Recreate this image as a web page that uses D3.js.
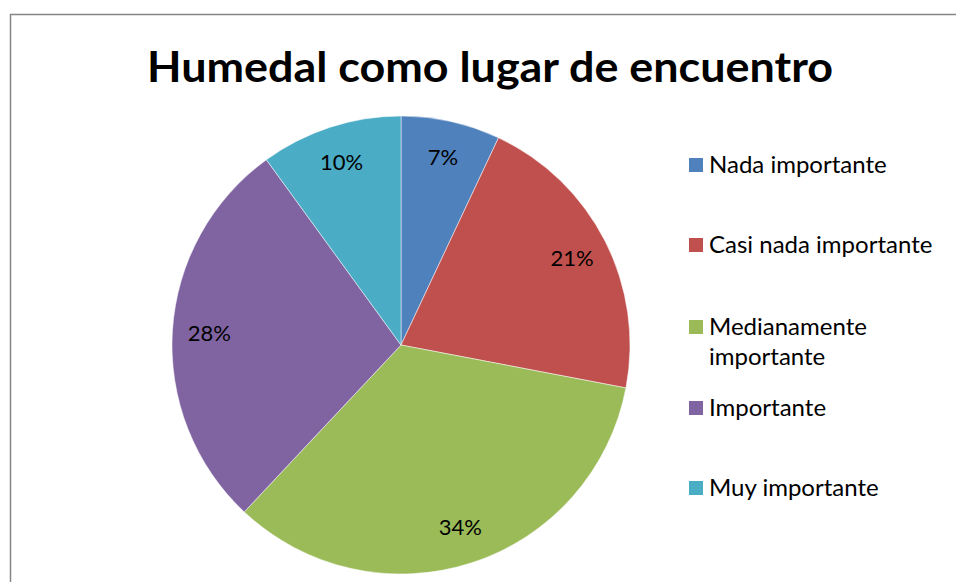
<!DOCTYPE html>
<html lang="es">
<head>
    <meta charset="UTF-8">
    <title>Humedal como lugar de encuentro</title>
    <script src="https://d3js.org/d3.v7.min.js"></script>
    <style>
        body { margin: 0; background: #fff; }
        svg { display: block; font-family: Lato, "Open Sans", sans-serif; }
    </style>
</head>
<body>
    <svg width="956" height="582"></svg>
    <script>
        var categories = ['Nada importante', 'Casi nada importante', 'Medianamente importante', 'Importante', 'Muy importante'];
        var values = [7, 21, 34, 28, 10];
        var legendLines = [['Nada importante'], ['Casi nada importante'], ['Medianamente', 'importante'], ['Importante'], ['Muy importante']];
        var colors = ['#4F81BD', '#C0504D', '#9BBB59', '#8064A2', '#4BACC6'];

        var data = categories.map((c, i) => ({ name: c, value: values[i], lines: legendLines[i], color: colors[i] }));

        var svg = d3.select('svg');

        // chart area border (runs off the right and bottom edge)
        svg.append('rect')
            .attr('x', 10.5).attr('y', 14.5)
            .attr('width', 1000).attr('height', 1000)
            .style('fill', 'none')
            .style('stroke', '#868686')
            .style('stroke-width', '1.5px');

        svg.append('text')
            .attr('x', 490).attr('y', 82)
            .attr('text-anchor', 'middle')
            .attr('textLength', 686)
            .attr('lengthAdjust', 'spacingAndGlyphs')
            .style('font-size', '42px')
            .style('font-weight', 'bold')
            .text('Humedal como lugar de encuentro');

        var cx = 401, cy = 345, radius = 229;
        var pie = d3.pie().sort(null).value(d => d.value);
        var arc = d3.arc().innerRadius(0).outerRadius(radius);
        var labelArc = d3.arc().innerRadius(192).outerRadius(192);

        var g = svg.append('g').attr('transform', 'translate(' + cx + ',' + cy + ')');
        var slices = pie(data);

        g.selectAll('path')
            .data(slices)
            .enter()
            .append('path')
            .attr('d', arc)
            .style('fill', d => d.data.color)
            .style('stroke', '#fff')
            .style('stroke-width', '0.5px');

        g.selectAll('text')
            .data(slices)
            .enter()
            .append('text')
            .attr('transform', d => 'translate(' + labelArc.centroid(d) + ')')
            .attr('text-anchor', 'middle')
            .attr('dy', '0.35em')
            .style('font-size', '22px')
            .style('fill', '#000')
            .text(d => d.data.value + '%');

        // legend
        var legendY = [165, 245, 327, 408, 488];
        var legend = svg.selectAll('g.legend')
            .data(data)
            .enter()
            .append('g')
            .attr('class', 'legend')
            .attr('transform', (d, i) => 'translate(689,' + legendY[i] + ')');

        legend.append('rect')
            .attr('x', 0).attr('y', -7)
            .attr('width', 14).attr('height', 14)
            .style('fill', d => d.color);

        legend.append('text')
            .style('font-size', '24px')
            .selectAll('tspan')
            .data(d => d.lines)
            .enter()
            .append('tspan')
            .attr('x', 20)
            .attr('dy', (d, i) => i === 0 ? '0.35em' : '1.25em')
            .text(d => d);
    </script>
</body>
</html>
